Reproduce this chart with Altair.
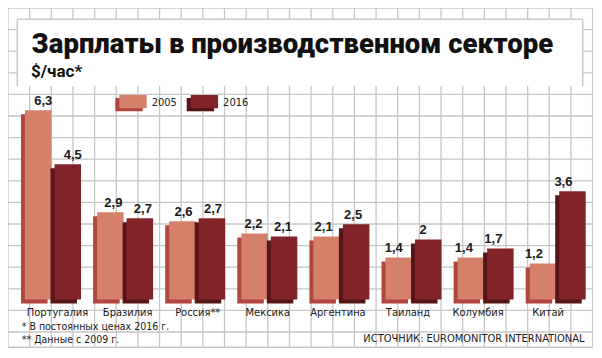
import altair as alt
import pandas as pd

# ---- data ----
countries = ["Португалия", "Бразилия", "Россия**", "Мексика", "Аргентина", "Таиланд", "Колумбия", "Китай"]
v2005 = [6.3, 2.9, 2.6, 2.2, 2.1, 1.4, 1.4, 1.2]
v2016 = [4.5, 2.7, 2.7, 2.1, 2.5, 2.0, 1.7, 3.6]
years = ["2005", "2016"]

title_text = "Зарплаты в производственном секторе"
subtitle_text = "$/час*"
footnotes = ["* В постоянных ценах 2016 г.", "** Данные с 2009 г."]
source_text = "ИСТОЧНИК: EUROMONITOR INTERNATIONAL"

# ---- style ----
W, H = 585, 340
GRID = "#c6c6c6"
FRONT = {"2005": "#d4806a", "2016": "#82232a"}
SIDE = {"2005": "#b0463d", "2016": "#561519"}
TXT = "#1a1a1a"
NARROW = "Liberation Sans Narrow, DejaVu Sans Condensed, sans-serif"

df = pd.DataFrame({"country": countries, "v2005": v2005, "v2016": v2016})
one = alt.Data(values=[{}])

xs = alt.Scale(domain=countries, range=[17, 577.7], paddingInner=0.2233, paddingOuter=0)
ys = alt.Scale(domain=[0, 9.7], range=[291.5, 0])

BW = 26.5
HALF = 14.75
DX, DY = -4, 4

# grid
grid_v = alt.Chart(pd.DataFrame({"g": list(range(28))})).mark_rule(color=GRID, strokeWidth=1.3).encode(
    x=alt.X("g:Q", scale=alt.Scale(domain=[0, 27], range=[0, 584.6]), axis=None),
    y=alt.value(0), y2=alt.value(339.3))
grid_h = alt.Chart(pd.DataFrame({"g": list(range(16))})).mark_rule(color=GRID, strokeWidth=1.3).encode(
    y=alt.Y("g:Q", scale=alt.Scale(domain=[0, 15], range=[0, 324]), axis=None),
    x=alt.value(0), x2=alt.value(584.6))
border_b = alt.Chart(one).mark_rule(color=GRID, strokeWidth=1.5).encode(
    x=alt.value(0), x2=alt.value(584.6), y=alt.value(339.3))

# title panel
panel = alt.Chart(one).mark_rect(fill="white").encode(
    x=alt.value(9.3), x2=alt.value(574.7), y=alt.value(11.3), y2=alt.value(78))
panel_l = alt.Chart(one).mark_rule(color="#c9c9c9", strokeWidth=1.5).encode(
    x=alt.value(9.3), y=alt.value(11.3), y2=alt.value(78))
panel_t = alt.Chart(one).mark_rule(color="#c9c9c9", strokeWidth=1.5).encode(
    x=alt.value(9.3), x2=alt.value(574.7), y=alt.value(11.3))
panel_r = alt.Chart(one).mark_rule(color="#c9c9c9", strokeWidth=1.5).encode(
    x=alt.value(574.7), y=alt.value(11.3), y2=alt.value(78))

title = alt.Chart(one).mark_text(align="left", baseline="alphabetic", font="Roboto", fontWeight=900,
                                 fontSize=27.5, color="#111111").encode(
    x=alt.value(23.5), y=alt.value(45.3), text=alt.value(title_text))
subtitle = alt.Chart(one).mark_text(align="left", baseline="alphabetic", font="Roboto", fontWeight="bold",
                                    fontSize=17, color="#111111").encode(
    x=alt.value(23), y=alt.value(69.3), text=alt.value(subtitle_text))

# legend
def swatch(x0, yr):
    sh = alt.Chart(one).mark_rect(color=SIDE[yr]).encode(
        x=alt.value(x0 + DX), x2=alt.value(x0 + 27.4 + DX), y=alt.value(87 + 3), y2=alt.value(100.3 + 3))
    fr = alt.Chart(one).mark_rect(color=FRONT[yr]).encode(
        x=alt.value(x0), x2=alt.value(x0 + 27.4), y=alt.value(87), y2=alt.value(100.3))
    tx = alt.Chart(one).mark_text(align="left", baseline="middle", font=NARROW, fontSize=11, color=TXT).encode(
        x=alt.value(x0 + 32.4), y=alt.value(95), text=alt.value(yr))
    return [sh, fr, tx]

legend_layers = swatch(111.3, "2005") + swatch(182.7, "2016")

# bars
base = alt.Chart(df)
bars = []
for yr, sign in (("2005", -1), ("2016", 1)):
    fld = "v" + yr
    bars.append(base.mark_bar(width=BW, xOffset=sign * HALF + DX, yOffset=DY, y2Offset=DY, color=SIDE[yr]).encode(
        x=alt.X("country:N", scale=xs, axis=None, sort=countries),
        y=alt.Y(fld + ":Q", scale=ys, axis=None)))
    bars.append(base.mark_bar(width=BW, xOffset=sign * HALF, color=FRONT[yr]).encode(
        x=alt.X("country:N", scale=xs, axis=None, sort=countries),
        y=alt.Y(fld + ":Q", scale=ys, axis=None)))
    bars.append(base.transform_calculate(
        lbl="replace(format(datum['" + fld + "'], '.1~f'), '.', ',')").mark_text(
        dx=sign * HALF - 2, dy=-5, baseline="alphabetic", font="Liberation Sans", fontWeight="bold",
        fontSize=13, color=TXT).encode(
        x=alt.X("country:N", scale=xs, axis=None, sort=countries),
        y=alt.Y(fld + ":Q", scale=ys, axis=None),
        text="lbl:N"))

cat_labels = base.mark_text(dx=-2.5, baseline="middle", font=NARROW, fontSize=11, color=TXT).encode(
    x=alt.X("country:N", scale=xs, axis=None, sort=countries),
    y=alt.value(304.5), text="country:N")

foot = alt.Chart(pd.DataFrame({"t": footnotes, "i": [0, 1]})).mark_text(
    align="left", baseline="middle", font=NARROW, fontSize=10.5, color=TXT).encode(
    x=alt.value(13.7),
    y=alt.Y("i:Q", scale=alt.Scale(domain=[0, 1], range=[319.3, 331.5]), axis=None),
    text="t:N")
source = alt.Chart(one).mark_text(align="right", baseline="middle", font=NARROW, fontSize=11, color=TXT).encode(
    x=alt.value(576.5), y=alt.value(330.5), text=alt.value(source_text))

chart = alt.layer(
    grid_v, grid_h, border_b, panel, panel_l, panel_t, panel_r, title, subtitle,
    *legend_layers, *bars, cat_labels, foot, source
).resolve_scale(x="independent", y="independent").properties(
    width=W, height=H, padding=0, autosize=alt.AutoSizeParams(type="none"), background="white"
).configure_view(stroke=None)

chart.save("out.html", embed_options={"renderer": "svg", "actions": False})
